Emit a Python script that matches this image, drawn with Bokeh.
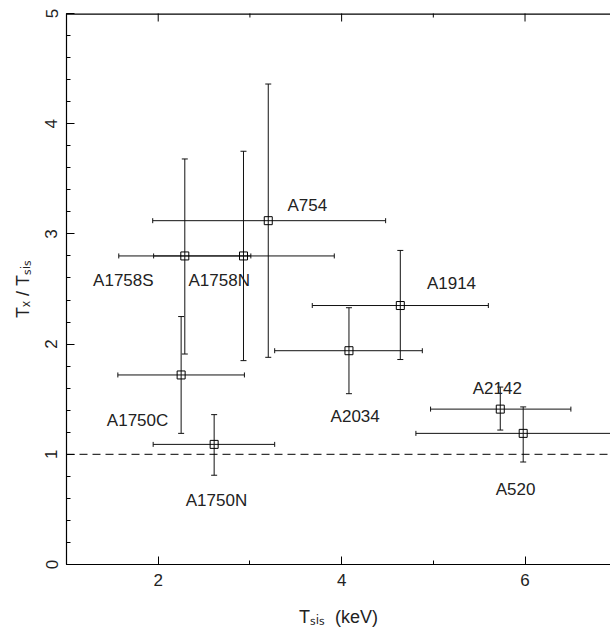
from bokeh.plotting import figure
from bokeh.models import (ColumnDataSource, Whisker, TeeHead, Span,
                          FixedTicker, Range1d)
from bokeh.core.properties import value
from bokeh.embed import file_html
from bokeh.resources import INLINE
import numpy as np

# ---- data ----
names = ["A754", "A1758S", "A1758N", "A1914", "A2034", "A1750C", "A1750N", "A2142", "A520"]
t_sis = [3.20, 2.29, 2.93, 4.64, 4.08, 2.25, 2.61, 5.73, 5.98]
t_sis_lo = [1.94, 1.57, 1.95, 3.68, 3.27, 1.56, 1.945, 4.97, 4.81]
t_sis_hi = [4.48, 3.01, 3.92, 5.60, 4.88, 2.94, 3.27, 6.50, 7.40]
ratio = [3.12, 2.80, 2.80, 2.35, 1.94, 1.72, 1.09, 1.41, 1.19]
ratio_lo = [1.88, 1.91, 1.85, 1.86, 1.55, 1.19, 0.81, 1.22, 0.93]
ratio_hi = [4.36, 3.68, 3.75, 2.85, 2.33, 2.25, 1.36, 1.61, 1.43]
label_x = [3.41, 1.29, 2.33, 4.93, 3.88, 1.44, 2.30, 5.43, 5.68]
label_y = [3.26, 2.58, 2.58, 2.55, 1.34, 1.31, 0.58, 1.60, 0.68]
x_major = [2, 4, 6]
x_minor = [1, 3, 5, 7]
y_major = [0, 1, 2, 3, 4, 5]
y_minor = [round(v * 0.2, 1) for v in range(0, 26)]
x_title = "T\u209b\u1d62\u209b\u00a0\u00a0(keV)"
y_title = "T\u2093\u00a0/\u00a0T\u209b\u1d62\u209b"

FONT = "Liberation Sans"

src = ColumnDataSource(dict(x=t_sis, xlo=t_sis_lo, xhi=t_sis_hi,
                            y=ratio, ylo=ratio_lo, yhi=ratio_hi,
                            lx=label_x, ly=label_y, name=names))

p = figure(width=610, height=631, output_backend="svg", toolbar_location=None,
           x_range=Range1d(1, 6.932), y_range=Range1d(0, 5),
           min_border_left=66, min_border_right=0, min_border_top=13,
           min_border_bottom=67)
p.outline_line_color = None
p.xgrid.grid_line_color = None
p.ygrid.grid_line_color = None
p.background_fill_color = "white"
p.border_fill_color = "white"

def style_axis(ax, major, minor):
    ax.ticker = FixedTicker(ticks=major, minor_ticks=minor)
    ax.major_tick_in = 8
    ax.major_tick_out = 0
    ax.minor_tick_in = 4
    ax.minor_tick_out = 0
    ax.axis_line_color = "black"
    ax.major_tick_line_color = "black"
    ax.minor_tick_line_color = "black"
    ax.axis_line_width = 1.2
    ax.major_label_text_font = FONT
    ax.major_label_text_color = "#222222"
    ax.major_label_text_font_size = "17px"
    ax.major_label_standoff = 9
    ax.axis_label_text_font = FONT
    ax.axis_label_text_font_style = "normal"
    ax.axis_label_text_font_size = "18px"
    ax.axis_label_text_color = "#222222"

style_axis(p.xaxis[0], x_major, x_minor)
style_axis(p.yaxis[0], y_major, y_minor)
p.yaxis[0].major_label_orientation = "parallel"
p.xaxis[0].axis_label = x_title
p.yaxis[0].axis_label = y_title
p.xaxis[0].axis_label_standoff = 18
p.yaxis[0].axis_label_standoff = 10

# top frame line and inward ticks (markers centred on the frame edge, clipped by it)
p.hspan(y=[y_major[-1]], line_color="black", line_width=2.4)
p.scatter(x=x_major, y=[y_major[-1]] * len(x_major), marker="dash", angle=np.pi / 2,
          size=16, line_color="black", line_width=1)
p.scatter(x=x_minor, y=[y_major[-1]] * len(x_minor), marker="dash", angle=np.pi / 2,
          size=8, line_color="black", line_width=1)

# dashed reference line
p.add_layout(Span(location=1, dimension="width", line_color="black",
                  line_dash="8 5", line_width=1))

# error bars
p.add_layout(Whisker(source=src, base="y", lower="xlo", upper="xhi", dimension="width",
                     line_color="#111111", line_width=1,
                     lower_head=TeeHead(size=5, line_color="#111111", line_width=1),
                     upper_head=TeeHead(size=5, line_color="#111111", line_width=1)))
p.add_layout(Whisker(source=src, base="x", lower="ylo", upper="yhi", dimension="height",
                     line_color="#111111", line_width=1,
                     lower_head=TeeHead(size=6, line_color="#111111", line_width=1),
                     upper_head=TeeHead(size=6, line_color="#111111", line_width=1)))

p.scatter("x", "y", source=src, marker="square", size=8, fill_color=None,
          line_color="black", line_width=1)

p.text("lx", "ly", text="name", source=src, text_font=value(FONT),
       text_font_size="17px", text_align="left", text_baseline="alphabetic",
       text_color="#222222")

open("out.html", "w").write(file_html(p, INLINE))
